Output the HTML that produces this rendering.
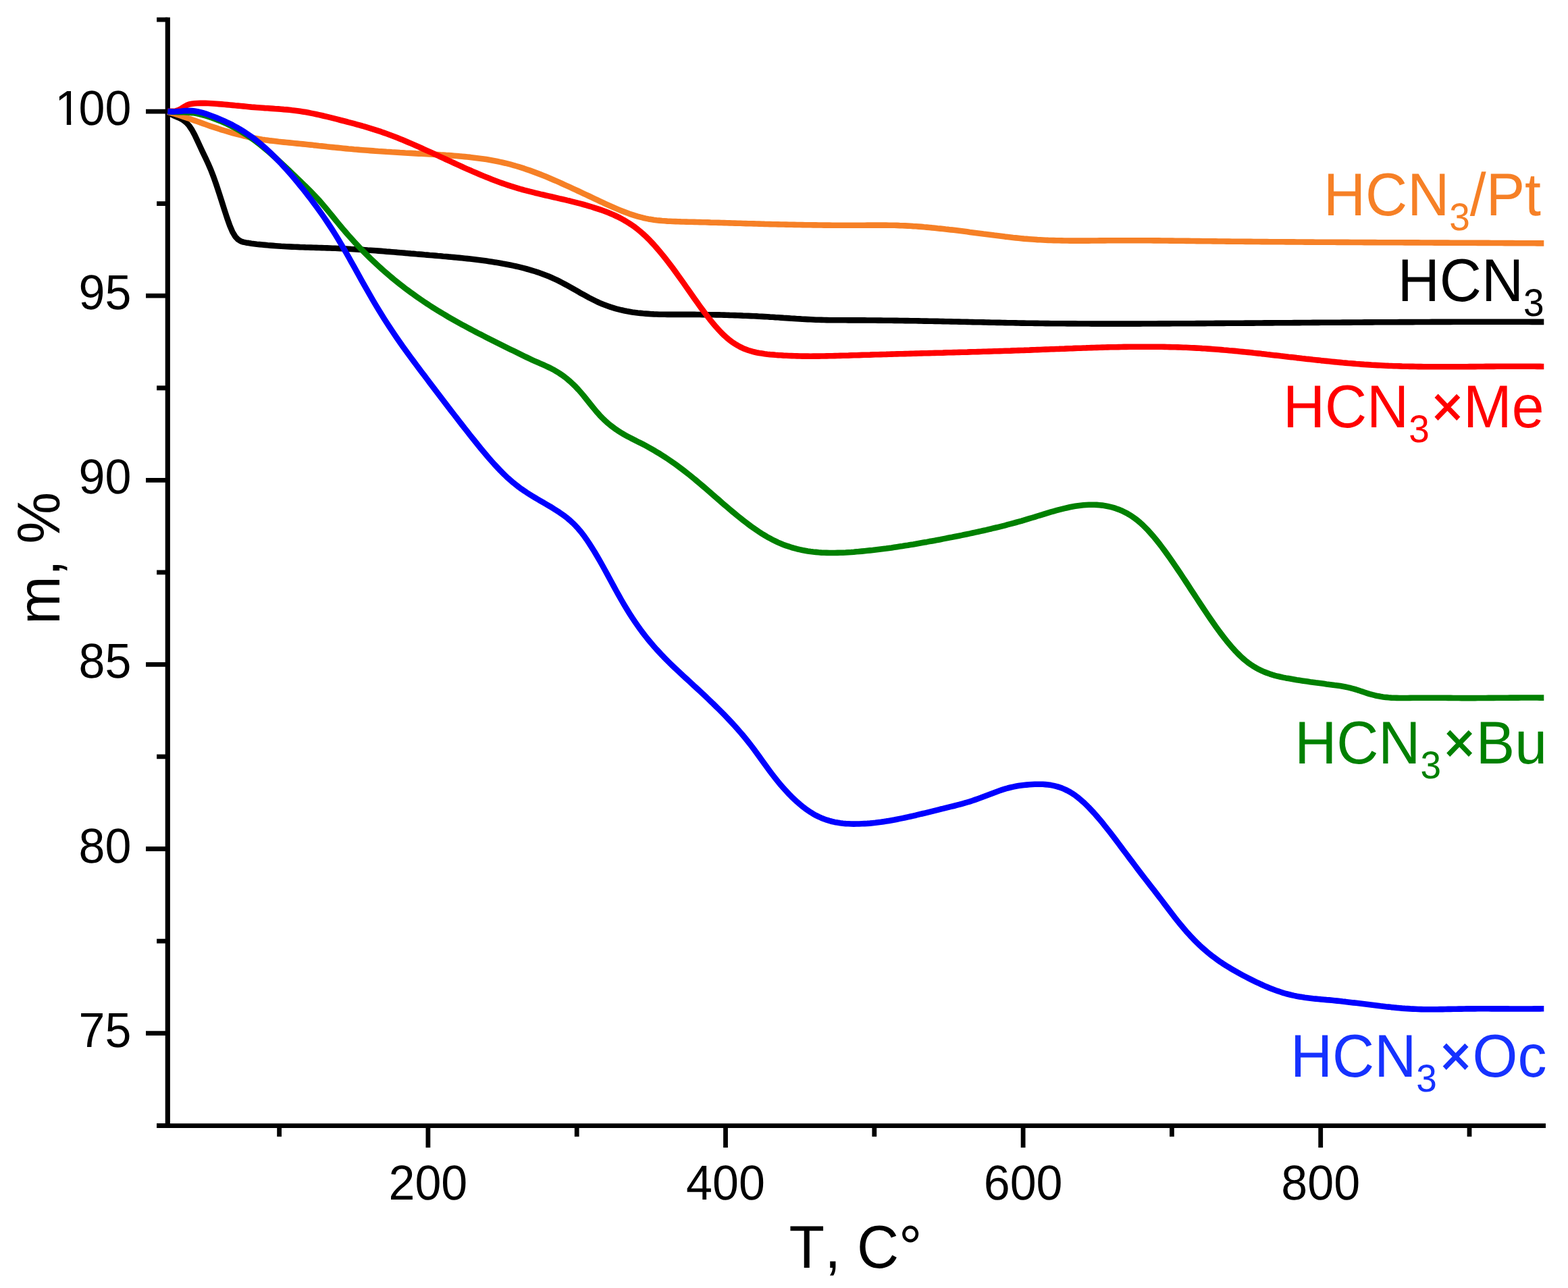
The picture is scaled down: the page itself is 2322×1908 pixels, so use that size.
<!DOCTYPE html>
<html lang="en"><head><meta charset="utf-8"><title>TG curves</title>
<style>
html,body{margin:0;padding:0;background:#fff;}
body{width:2322px;height:1908px;overflow:hidden;}
svg{display:block;font-family:"Liberation Sans",sans-serif;font-kerning:none;text-rendering:geometricPrecision;}
.crv{fill:none;stroke-linejoin:round;stroke-linecap:butt;}
.ax{stroke:#000;fill:none;stroke-linecap:butt;}
</style></head><body>
<svg width="2322" height="1908" viewBox="0 0 2322 1908">
<rect width="2322" height="1908" fill="#fff"/>
<g class="ax" stroke-width="7.2">
<path stroke-width="7.2" d="M248.3 25.8 V1671.00"/>
<path stroke-width="6.8" d="M232.10 1667.6 H2289"/>
<path stroke-width="6.8" d="M248.3 29.20 H232.10 M248.3 165.10 H216.00 M248.3 301.65 H232.10 M248.3 438.20 H216.00 M248.3 574.75 H232.10 M248.3 711.30 H216.00 M248.3 847.85 H232.10 M248.3 984.40 H216.00 M248.3 1120.95 H232.10 M248.3 1257.50 H216.00 M248.3 1394.05 H232.10 M248.3 1530.60 H216.00 M248.3 1667.60 H232.10"/>
<path stroke-width="6.8" d="M413.60 1667.6 V1683.80 M633.90 1667.6 V1699.90 M854.20 1667.6 V1683.80 M1074.50 1667.6 V1699.90 M1294.80 1667.6 V1683.80 M1515.10 1667.6 V1699.90 M1735.40 1667.6 V1683.80 M1955.70 1667.6 V1699.90 M2176.00 1667.6 V1683.80"/>
</g>
<path class="crv" stroke="#000000" stroke-width="8.6" d="M248.3 166.0L252.3 168.7 256.3 170.8 260.3 172.5 264.3 174.2 268.3 176.2 272.3 178.7 276.3 182.0 280.3 186.5 284.3 192.5 288.3 199.9 292.3 208.3 296.3 217.0 300.3 225.6 304.3 233.9 308.3 242.5 312.3 251.7 316.3 262.1 320.3 273.5 324.3 285.6 328.3 298.1 332.3 310.7 336.3 323.0 340.3 334.3 344.3 343.6 348.3 350.3 352.3 354.7 356.3 357.2 360.3 358.6 364.3 359.4 368.3 360.1 372.3 360.7 376.3 361.2 380.3 361.7 384.3 362.1 388.3 362.5 392.3 362.9 396.3 363.3 400.3 363.6 404.3 363.9 408.3 364.2 412.3 364.5 416.3 364.8 420.3 365.0 424.3 365.2 428.3 365.4 432.3 365.6 436.3 365.8 440.3 365.9 444.3 366.1 448.3 366.2 452.3 366.4 456.3 366.5 460.3 366.6 464.3 366.8 468.3 366.9 472.3 367.0 476.3 367.1 480.3 367.3 484.3 367.4 488.3 367.5 492.3 367.7 496.3 367.8 500.3 368.0 504.3 368.2 508.3 368.3 512.3 368.5 516.3 368.7 520.3 369.0 524.3 369.2 528.3 369.4 532.3 369.7 536.3 369.9 540.3 370.2 544.3 370.5 548.3 370.7 552.3 371.0 556.3 371.3 560.3 371.6 564.3 371.9 568.3 372.2 572.3 372.6 576.3 372.9 580.3 373.2 584.3 373.5 588.3 373.9 592.3 374.2 596.3 374.5 600.3 374.9 604.3 375.2 608.3 375.6 612.3 375.9 616.3 376.3 620.3 376.6 624.3 376.9 628.3 377.3 632.3 377.6 636.3 378.0 640.3 378.3 644.3 378.6 648.3 379.0 652.3 379.3 656.3 379.7 660.3 380.0 664.3 380.4 668.3 380.7 672.3 381.1 676.3 381.5 680.3 381.9 684.3 382.3 688.3 382.7 692.3 383.1 696.3 383.5 700.3 384.0 704.3 384.5 708.3 385.0 712.3 385.5 716.3 386.0 720.3 386.6 724.3 387.2 728.3 387.8 732.3 388.4 736.3 389.1 740.3 389.7 744.3 390.5 748.3 391.2 752.3 392.0 756.3 392.8 760.3 393.6 764.3 394.5 768.3 395.4 772.3 396.4 776.3 397.4 780.3 398.5 784.3 399.6 788.3 400.8 792.3 402.0 796.3 403.3 800.3 404.7 804.3 406.2 808.3 407.7 812.3 409.3 816.3 411.0 820.3 412.8 824.3 414.7 828.3 416.7 832.3 418.8 836.3 420.9 840.3 423.1 844.3 425.3 848.3 427.6 852.3 429.8 856.3 432.1 860.3 434.4 864.3 436.6 868.3 438.8 872.3 441.0 876.3 443.0 880.3 445.0 884.3 447.0 888.3 448.8 892.3 450.5 896.3 452.0 900.3 453.5 904.3 454.9 908.3 456.1 912.3 457.3 916.3 458.3 920.3 459.3 924.3 460.2 928.3 461.0 932.3 461.7 936.3 462.4 940.3 462.9 944.3 463.5 948.3 463.9 952.3 464.3 956.3 464.6 960.3 464.9 964.3 465.2 968.3 465.4 972.3 465.5 976.3 465.7 980.3 465.8 984.3 465.8 988.3 465.9 992.3 465.9 996.3 465.9 1000.3 465.9 1004.3 465.9 1008.3 465.9 1012.3 465.9 1016.3 465.9 1020.3 465.9 1024.3 465.9 1028.3 465.9 1032.3 466.0 1036.3 466.0 1040.3 466.1 1044.3 466.1 1048.3 466.2 1052.3 466.2 1056.3 466.3 1060.3 466.4 1064.3 466.4 1068.3 466.5 1072.3 466.6 1076.3 466.7 1080.3 466.9 1084.3 467.0 1088.3 467.1 1092.3 467.3 1096.3 467.4 1100.3 467.6 1104.3 467.7 1108.3 467.9 1112.3 468.1 1116.3 468.3 1120.3 468.4 1124.3 468.7 1128.3 468.9 1132.3 469.1 1136.3 469.3 1140.3 469.6 1144.3 469.8 1148.3 470.1 1152.3 470.3 1156.3 470.6 1160.3 470.9 1164.3 471.1 1168.3 471.4 1172.3 471.7 1176.3 471.9 1180.3 472.2 1184.3 472.4 1188.3 472.7 1192.3 472.9 1196.3 473.1 1200.3 473.3 1204.3 473.5 1208.3 473.7 1212.3 473.8 1216.3 473.9 1220.3 474.0 1224.3 474.1 1228.3 474.2 1232.3 474.2 1236.3 474.3 1240.3 474.3 1244.3 474.3 1248.3 474.3 1252.3 474.3 1256.3 474.4 1260.3 474.4 1264.3 474.4 1268.3 474.4 1272.3 474.4 1276.3 474.4 1280.3 474.4 1284.3 474.5 1288.3 474.5 1292.3 474.5 1296.3 474.5 1300.3 474.6 1304.3 474.6 1308.3 474.7 1312.3 474.7 1316.3 474.8 1320.3 474.8 1324.3 474.9 1328.3 474.9 1332.3 475.0 1336.3 475.0 1340.3 475.1 1344.3 475.1 1348.3 475.2 1352.3 475.3 1356.3 475.3 1360.3 475.4 1364.3 475.5 1368.3 475.6 1372.3 475.6 1376.3 475.7 1380.3 475.8 1384.3 475.9 1388.3 475.9 1392.3 476.0 1396.3 476.1 1400.3 476.2 1404.3 476.3 1408.3 476.4 1412.3 476.5 1416.3 476.5 1420.3 476.6 1424.3 476.7 1428.3 476.8 1432.3 476.9 1436.3 477.0 1440.3 477.1 1444.3 477.2 1448.3 477.3 1452.3 477.3 1456.3 477.4 1460.3 477.5 1464.3 477.6 1468.3 477.7 1472.3 477.8 1476.3 477.9 1480.3 477.9 1484.3 478.0 1488.3 478.1 1492.3 478.2 1496.3 478.3 1500.3 478.3 1504.3 478.4 1508.3 478.5 1512.3 478.6 1516.3 478.6 1520.3 478.7 1524.3 478.7 1528.3 478.8 1532.3 478.9 1536.3 478.9 1540.3 479.0 1544.3 479.0 1548.3 479.1 1552.3 479.1 1556.3 479.2 1560.3 479.2 1564.3 479.2 1568.3 479.3 1572.3 479.3 1576.3 479.3 1580.3 479.4 1584.3 479.4 1588.3 479.4 1592.3 479.4 1596.3 479.5 1600.3 479.5 1604.3 479.5 1608.3 479.5 1612.3 479.5 1616.3 479.6 1620.3 479.6 1624.3 479.6 1628.3 479.6 1632.3 479.6 1636.3 479.6 1640.3 479.6 1644.3 479.6 1648.3 479.6 1652.3 479.6 1656.3 479.6 1660.3 479.6 1664.3 479.6 1668.3 479.6 1672.3 479.6 1676.3 479.6 1680.3 479.6 1684.3 479.6 1688.3 479.6 1692.3 479.5 1696.3 479.5 1700.3 479.5 1704.3 479.5 1708.3 479.5 1712.3 479.5 1716.3 479.4 1720.3 479.4 1724.3 479.4 1728.3 479.4 1732.3 479.4 1736.3 479.3 1740.3 479.3 1744.3 479.3 1748.3 479.3 1752.3 479.3 1756.3 479.2 1760.3 479.2 1764.3 479.2 1768.3 479.2 1772.3 479.1 1776.3 479.1 1780.3 479.1 1784.3 479.1 1788.3 479.0 1792.3 479.0 1796.3 479.0 1800.3 478.9 1804.3 478.9 1808.3 478.9 1812.3 478.9 1816.3 478.8 1820.3 478.8 1824.3 478.8 1828.3 478.8 1832.3 478.7 1836.3 478.7 1840.3 478.7 1844.3 478.6 1848.3 478.6 1852.3 478.6 1856.3 478.6 1860.3 478.5 1864.3 478.5 1868.3 478.5 1872.3 478.4 1876.3 478.4 1880.3 478.4 1884.3 478.4 1888.3 478.3 1892.3 478.3 1896.3 478.3 1900.3 478.2 1904.3 478.2 1908.3 478.2 1912.3 478.2 1916.3 478.1 1920.3 478.1 1924.3 478.1 1928.3 478.0 1932.3 478.0 1936.3 478.0 1940.3 478.0 1944.3 477.9 1948.3 477.9 1952.3 477.9 1956.3 477.8 1960.3 477.8 1964.3 477.8 1968.3 477.8 1972.3 477.7 1976.3 477.7 1980.3 477.7 1984.3 477.7 1988.3 477.6 1992.3 477.6 1996.3 477.6 2000.3 477.6 2004.3 477.5 2008.3 477.5 2012.3 477.5 2016.3 477.5 2020.3 477.4 2024.3 477.4 2028.3 477.4 2032.3 477.4 2036.3 477.3 2040.3 477.3 2044.3 477.3 2048.3 477.3 2052.3 477.2 2056.3 477.2 2060.3 477.2 2064.3 477.2 2068.3 477.2 2072.3 477.1 2076.3 477.1 2080.3 477.1 2084.3 477.1 2088.3 477.1 2092.3 477.1 2096.3 477.0 2100.3 477.0 2104.3 477.0 2108.3 477.0 2112.3 477.0 2116.3 477.0 2120.3 476.9 2124.3 476.9 2128.3 476.9 2132.3 476.9 2136.3 476.9 2140.3 476.9 2144.3 476.9 2148.3 476.9 2152.3 476.8 2156.3 476.8 2160.3 476.8 2164.3 476.8 2168.3 476.8 2172.3 476.8 2176.3 476.8 2180.3 476.8 2184.3 476.8 2188.3 476.8 2192.3 476.8 2196.3 476.8 2200.3 476.8 2204.3 476.8 2208.3 476.8 2212.3 476.8 2216.3 476.8 2220.3 476.8 2224.3 476.8 2228.3 476.8 2232.3 476.8 2236.3 476.8 2240.3 476.8 2244.3 476.8 2248.3 476.8 2252.3 476.8 2256.3 476.8 2260.3 476.8 2264.3 476.8 2268.3 476.9 2272.3 476.9 2276.3 476.9 2280.3 476.9 2284.3 476.9 2286.3 476.9"/>
<path class="crv" stroke="#f68026" stroke-width="8.6" d="M248.3 165.8L252.3 166.9 256.3 168.0 260.3 169.2 264.3 170.4 268.3 171.7 272.3 173.1 276.3 174.4 280.3 175.8 284.3 177.2 288.3 178.6 292.3 180.0 296.3 181.4 300.3 182.9 304.3 184.3 308.3 185.7 312.3 187.1 316.3 188.4 320.3 189.7 324.3 191.0 328.3 192.3 332.3 193.5 336.3 194.7 340.3 195.9 344.3 197.0 348.3 198.1 352.3 199.2 356.3 200.2 360.3 201.2 364.3 202.1 368.3 203.0 372.3 203.8 376.3 204.6 380.3 205.3 384.3 206.0 388.3 206.7 392.3 207.3 396.3 207.8 400.3 208.4 404.3 208.8 408.3 209.3 412.3 209.8 416.3 210.2 420.3 210.6 424.3 211.0 428.3 211.4 432.3 211.8 436.3 212.2 440.3 212.6 444.3 213.0 448.3 213.4 452.3 213.8 456.3 214.2 460.3 214.6 464.3 215.1 468.3 215.5 472.3 216.0 476.3 216.4 480.3 216.8 484.3 217.3 488.3 217.7 492.3 218.1 496.3 218.5 500.3 218.9 504.3 219.3 508.3 219.7 512.3 220.1 516.3 220.5 520.3 220.8 524.3 221.2 528.3 221.5 532.3 221.9 536.3 222.2 540.3 222.5 544.3 222.8 548.3 223.1 552.3 223.4 556.3 223.7 560.3 224.0 564.3 224.2 568.3 224.5 572.3 224.8 576.3 225.0 580.3 225.3 584.3 225.5 588.3 225.7 592.3 226.0 596.3 226.2 600.3 226.5 604.3 226.7 608.3 226.9 612.3 227.1 616.3 227.4 620.3 227.6 624.3 227.8 628.3 228.0 632.3 228.2 636.3 228.5 640.3 228.7 644.3 228.9 648.3 229.1 652.3 229.4 656.3 229.6 660.3 229.9 664.3 230.1 668.3 230.4 672.3 230.7 676.3 231.0 680.3 231.4 684.3 231.7 688.3 232.1 692.3 232.5 696.3 232.9 700.3 233.4 704.3 233.9 708.3 234.4 712.3 234.9 716.3 235.5 720.3 236.1 724.3 236.8 728.3 237.5 732.3 238.2 736.3 239.0 740.3 239.9 744.3 240.8 748.3 241.7 752.3 242.7 756.3 243.7 760.3 244.8 764.3 246.0 768.3 247.2 772.3 248.4 776.3 249.7 780.3 251.1 784.3 252.4 788.3 253.9 792.3 255.4 796.3 256.9 800.3 258.4 804.3 260.0 808.3 261.6 812.3 263.3 816.3 265.0 820.3 266.7 824.3 268.4 828.3 270.2 832.3 272.0 836.3 273.8 840.3 275.6 844.3 277.4 848.3 279.3 852.3 281.1 856.3 283.0 860.3 284.9 864.3 286.8 868.3 288.6 872.3 290.5 876.3 292.4 880.3 294.3 884.3 296.2 888.3 298.1 892.3 299.9 896.3 301.8 900.3 303.6 904.3 305.4 908.3 307.2 912.3 308.9 916.3 310.6 920.3 312.2 924.3 313.8 928.3 315.3 932.3 316.8 936.3 318.1 940.3 319.4 944.3 320.6 948.3 321.7 952.3 322.7 956.3 323.6 960.3 324.4 964.3 325.1 968.3 325.7 972.3 326.2 976.3 326.6 980.3 327.0 984.3 327.3 988.3 327.6 992.3 327.8 996.3 328.0 1000.3 328.1 1004.3 328.2 1008.3 328.4 1012.3 328.5 1016.3 328.6 1020.3 328.7 1024.3 328.8 1028.3 328.9 1032.3 329.0 1036.3 329.1 1040.3 329.2 1044.3 329.3 1048.3 329.4 1052.3 329.6 1056.3 329.7 1060.3 329.8 1064.3 329.9 1068.3 330.0 1072.3 330.1 1076.3 330.3 1080.3 330.4 1084.3 330.5 1088.3 330.6 1092.3 330.7 1096.3 330.8 1100.3 331.0 1104.3 331.1 1108.3 331.2 1112.3 331.3 1116.3 331.4 1120.3 331.5 1124.3 331.6 1128.3 331.7 1132.3 331.9 1136.3 332.0 1140.3 332.1 1144.3 332.2 1148.3 332.3 1152.3 332.4 1156.3 332.5 1160.3 332.5 1164.3 332.6 1168.3 332.7 1172.3 332.8 1176.3 332.9 1180.3 333.0 1184.3 333.0 1188.3 333.1 1192.3 333.2 1196.3 333.3 1200.3 333.3 1204.3 333.4 1208.3 333.4 1212.3 333.5 1216.3 333.5 1220.3 333.6 1224.3 333.6 1228.3 333.6 1232.3 333.7 1236.3 333.7 1240.3 333.7 1244.3 333.7 1248.3 333.8 1252.3 333.8 1256.3 333.8 1260.3 333.8 1264.3 333.8 1268.3 333.7 1272.3 333.7 1276.3 333.7 1280.3 333.7 1284.3 333.6 1288.3 333.6 1292.3 333.6 1296.3 333.6 1300.3 333.6 1304.3 333.6 1308.3 333.6 1312.3 333.6 1316.3 333.7 1320.3 333.7 1324.3 333.8 1328.3 333.9 1332.3 334.1 1336.3 334.2 1340.3 334.4 1344.3 334.6 1348.3 334.8 1352.3 335.1 1356.3 335.3 1360.3 335.6 1364.3 335.9 1368.3 336.3 1372.3 336.6 1376.3 337.0 1380.3 337.4 1384.3 337.7 1388.3 338.2 1392.3 338.6 1396.3 339.0 1400.3 339.5 1404.3 339.9 1408.3 340.4 1412.3 340.8 1416.3 341.3 1420.3 341.8 1424.3 342.3 1428.3 342.8 1432.3 343.3 1436.3 343.9 1440.3 344.4 1444.3 344.9 1448.3 345.4 1452.3 345.9 1456.3 346.5 1460.3 347.0 1464.3 347.5 1468.3 348.0 1472.3 348.6 1476.3 349.1 1480.3 349.6 1484.3 350.1 1488.3 350.6 1492.3 351.0 1496.3 351.5 1500.3 352.0 1504.3 352.4 1508.3 352.8 1512.3 353.2 1516.3 353.6 1520.3 353.9 1524.3 354.2 1528.3 354.5 1532.3 354.8 1536.3 355.1 1540.3 355.3 1544.3 355.5 1548.3 355.7 1552.3 355.9 1556.3 356.0 1560.3 356.1 1564.3 356.2 1568.3 356.3 1572.3 356.4 1576.3 356.5 1580.3 356.5 1584.3 356.6 1588.3 356.6 1592.3 356.6 1596.3 356.6 1600.3 356.6 1604.3 356.6 1608.3 356.6 1612.3 356.6 1616.3 356.5 1620.3 356.5 1624.3 356.5 1628.3 356.4 1632.3 356.4 1636.3 356.4 1640.3 356.3 1644.3 356.3 1648.3 356.3 1652.3 356.2 1656.3 356.2 1660.3 356.2 1664.3 356.2 1668.3 356.2 1672.3 356.2 1676.3 356.2 1680.3 356.2 1684.3 356.2 1688.3 356.2 1692.3 356.2 1696.3 356.3 1700.3 356.3 1704.3 356.3 1708.3 356.4 1712.3 356.4 1716.3 356.4 1720.3 356.5 1724.3 356.5 1728.3 356.5 1732.3 356.6 1736.3 356.6 1740.3 356.7 1744.3 356.7 1748.3 356.8 1752.3 356.8 1756.3 356.9 1760.3 356.9 1764.3 357.0 1768.3 357.0 1772.3 357.1 1776.3 357.1 1780.3 357.2 1784.3 357.2 1788.3 357.3 1792.3 357.3 1796.3 357.4 1800.3 357.4 1804.3 357.5 1808.3 357.5 1812.3 357.5 1816.3 357.6 1820.3 357.6 1824.3 357.7 1828.3 357.7 1832.3 357.7 1836.3 357.8 1840.3 357.8 1844.3 357.9 1848.3 357.9 1852.3 357.9 1856.3 358.0 1860.3 358.0 1864.3 358.0 1868.3 358.1 1872.3 358.1 1876.3 358.1 1880.3 358.2 1884.3 358.2 1888.3 358.2 1892.3 358.3 1896.3 358.3 1900.3 358.3 1904.3 358.4 1908.3 358.4 1912.3 358.4 1916.3 358.4 1920.3 358.5 1924.3 358.5 1928.3 358.5 1932.3 358.6 1936.3 358.6 1940.3 358.6 1944.3 358.6 1948.3 358.7 1952.3 358.7 1956.3 358.7 1960.3 358.7 1964.3 358.8 1968.3 358.8 1972.3 358.8 1976.3 358.8 1980.3 358.9 1984.3 358.9 1988.3 358.9 1992.3 358.9 1996.3 358.9 2000.3 359.0 2004.3 359.0 2008.3 359.0 2012.3 359.0 2016.3 359.0 2020.3 359.1 2024.3 359.1 2028.3 359.1 2032.3 359.1 2036.3 359.1 2040.3 359.2 2044.3 359.2 2048.3 359.2 2052.3 359.2 2056.3 359.2 2060.3 359.3 2064.3 359.3 2068.3 359.3 2072.3 359.3 2076.3 359.3 2080.3 359.4 2084.3 359.4 2088.3 359.4 2092.3 359.4 2096.3 359.4 2100.3 359.4 2104.3 359.5 2108.3 359.5 2112.3 359.5 2116.3 359.5 2120.3 359.5 2124.3 359.6 2128.3 359.6 2132.3 359.6 2136.3 359.6 2140.3 359.6 2144.3 359.6 2148.3 359.7 2152.3 359.7 2156.3 359.7 2160.3 359.7 2164.3 359.7 2168.3 359.8 2172.3 359.8 2176.3 359.8 2180.3 359.8 2184.3 359.8 2188.3 359.9 2192.3 359.9 2196.3 359.9 2200.3 359.9 2204.3 359.9 2208.3 360.0 2212.3 360.0 2216.3 360.0 2220.3 360.0 2224.3 360.0 2228.3 360.1 2232.3 360.1 2236.3 360.1 2240.3 360.1 2244.3 360.2 2248.3 360.2 2252.3 360.2 2256.3 360.2 2260.3 360.3 2264.3 360.3 2268.3 360.3 2272.3 360.3 2276.3 360.4 2280.3 360.4 2284.3 360.4 2286.3 360.4"/>
<path class="crv" stroke="#ff0000" stroke-width="8.6" d="M248.3 164.7L252.3 164.7 256.3 164.9 260.3 164.4 264.3 163.1 268.3 161.0 272.3 158.5 276.3 156.1 280.3 154.5 284.3 153.8 288.3 153.3 292.3 153.0 296.3 152.9 300.3 152.8 304.3 152.9 308.3 153.0 312.3 153.2 316.3 153.5 320.3 153.8 324.3 154.1 328.3 154.4 332.3 154.7 336.3 155.1 340.3 155.5 344.3 155.9 348.3 156.3 352.3 156.6 356.3 157.0 360.3 157.4 364.3 157.8 368.3 158.2 372.3 158.6 376.3 158.9 380.3 159.2 384.3 159.5 388.3 159.8 392.3 160.1 396.3 160.3 400.3 160.6 404.3 160.9 408.3 161.2 412.3 161.4 416.3 161.7 420.3 162.1 424.3 162.4 428.3 162.8 432.3 163.3 436.3 163.7 440.3 164.2 444.3 164.8 448.3 165.4 452.3 166.1 456.3 166.8 460.3 167.6 464.3 168.4 468.3 169.2 472.3 170.1 476.3 171.0 480.3 172.0 484.3 172.9 488.3 173.9 492.3 174.9 496.3 175.9 500.3 176.9 504.3 178.0 508.3 179.0 512.3 180.0 516.3 181.1 520.3 182.1 524.3 183.2 528.3 184.3 532.3 185.4 536.3 186.5 540.3 187.7 544.3 188.9 548.3 190.1 552.3 191.3 556.3 192.6 560.3 193.9 564.3 195.2 568.3 196.6 572.3 198.0 576.3 199.5 580.3 201.0 584.3 202.5 588.3 204.1 592.3 205.7 596.3 207.3 600.3 209.0 604.3 210.7 608.3 212.4 612.3 214.1 616.3 215.9 620.3 217.7 624.3 219.5 628.3 221.3 632.3 223.1 636.3 224.9 640.3 226.7 644.3 228.6 648.3 230.4 652.3 232.3 656.3 234.1 660.3 236.0 664.3 237.8 668.3 239.7 672.3 241.5 676.3 243.3 680.3 245.2 684.3 247.0 688.3 248.8 692.3 250.6 696.3 252.3 700.3 254.1 704.3 255.8 708.3 257.5 712.3 259.2 716.3 260.9 720.3 262.5 724.3 264.1 728.3 265.7 732.3 267.2 736.3 268.7 740.3 270.2 744.3 271.6 748.3 273.0 752.3 274.4 756.3 275.7 760.3 276.9 764.3 278.1 768.3 279.3 772.3 280.5 776.3 281.6 780.3 282.6 784.3 283.7 788.3 284.7 792.3 285.7 796.3 286.6 800.3 287.6 804.3 288.5 808.3 289.5 812.3 290.4 816.3 291.3 820.3 292.2 824.3 293.1 828.3 294.1 832.3 295.0 836.3 295.9 840.3 296.9 844.3 297.8 848.3 298.8 852.3 299.8 856.3 300.9 860.3 301.9 864.3 303.0 868.3 304.1 872.3 305.3 876.3 306.5 880.3 307.8 884.3 309.1 888.3 310.4 892.3 311.8 896.3 313.3 900.3 314.8 904.3 316.4 908.3 318.1 912.3 320.0 916.3 321.9 920.3 324.0 924.3 326.2 928.3 328.6 932.3 331.1 936.3 333.8 940.3 336.6 944.3 339.7 948.3 343.0 952.3 346.5 956.3 350.2 960.3 354.1 964.3 358.2 968.3 362.5 972.3 367.1 976.3 371.7 980.3 376.6 984.3 381.5 988.3 386.6 992.3 391.9 996.3 397.2 1000.3 402.6 1004.3 408.2 1008.3 413.7 1012.3 419.4 1016.3 425.1 1020.3 430.8 1024.3 436.5 1028.3 442.2 1032.3 447.8 1036.3 453.4 1040.3 458.9 1044.3 464.3 1048.3 469.5 1052.3 474.6 1056.3 479.5 1060.3 484.2 1064.3 488.6 1068.3 492.9 1072.3 496.8 1076.3 500.4 1080.3 503.8 1084.3 506.7 1088.3 509.4 1092.3 511.8 1096.3 514.0 1100.3 515.9 1104.3 517.5 1108.3 519.0 1112.3 520.2 1116.3 521.3 1120.3 522.2 1124.3 523.0 1128.3 523.6 1132.3 524.2 1136.3 524.7 1140.3 525.1 1144.3 525.4 1148.3 525.8 1152.3 526.1 1156.3 526.3 1160.3 526.6 1164.3 526.8 1168.3 527.0 1172.3 527.1 1176.3 527.3 1180.3 527.4 1184.3 527.5 1188.3 527.6 1192.3 527.6 1196.3 527.6 1200.3 527.7 1204.3 527.6 1208.3 527.6 1212.3 527.6 1216.3 527.5 1220.3 527.5 1224.3 527.4 1228.3 527.3 1232.3 527.2 1236.3 527.1 1240.3 527.0 1244.3 526.9 1248.3 526.8 1252.3 526.7 1256.3 526.6 1260.3 526.4 1264.3 526.3 1268.3 526.2 1272.3 526.1 1276.3 525.9 1280.3 525.8 1284.3 525.7 1288.3 525.6 1292.3 525.4 1296.3 525.3 1300.3 525.2 1304.3 525.1 1308.3 525.0 1312.3 524.9 1316.3 524.7 1320.3 524.6 1324.3 524.5 1328.3 524.4 1332.3 524.3 1336.3 524.2 1340.3 524.1 1344.3 524.0 1348.3 523.9 1352.3 523.8 1356.3 523.6 1360.3 523.5 1364.3 523.4 1368.3 523.3 1372.3 523.2 1376.3 523.1 1380.3 523.0 1384.3 522.9 1388.3 522.8 1392.3 522.7 1396.3 522.6 1400.3 522.4 1404.3 522.3 1408.3 522.2 1412.3 522.1 1416.3 522.0 1420.3 521.9 1424.3 521.8 1428.3 521.7 1432.3 521.6 1436.3 521.4 1440.3 521.3 1444.3 521.2 1448.3 521.1 1452.3 521.0 1456.3 520.8 1460.3 520.7 1464.3 520.6 1468.3 520.5 1472.3 520.3 1476.3 520.2 1480.3 520.1 1484.3 520.0 1488.3 519.8 1492.3 519.7 1496.3 519.6 1500.3 519.4 1504.3 519.3 1508.3 519.1 1512.3 519.0 1516.3 518.9 1520.3 518.7 1524.3 518.6 1528.3 518.4 1532.3 518.3 1536.3 518.1 1540.3 518.0 1544.3 517.8 1548.3 517.6 1552.3 517.5 1556.3 517.3 1560.3 517.2 1564.3 517.0 1568.3 516.9 1572.3 516.7 1576.3 516.6 1580.3 516.4 1584.3 516.2 1588.3 516.1 1592.3 515.9 1596.3 515.8 1600.3 515.7 1604.3 515.5 1608.3 515.4 1612.3 515.2 1616.3 515.1 1620.3 515.0 1624.3 514.9 1628.3 514.8 1632.3 514.6 1636.3 514.5 1640.3 514.4 1644.3 514.3 1648.3 514.2 1652.3 514.2 1656.3 514.1 1660.3 514.0 1664.3 513.9 1668.3 513.9 1672.3 513.8 1676.3 513.8 1680.3 513.7 1684.3 513.7 1688.3 513.7 1692.3 513.7 1696.3 513.7 1700.3 513.7 1704.3 513.7 1708.3 513.7 1712.3 513.8 1716.3 513.8 1720.3 513.8 1724.3 513.9 1728.3 514.0 1732.3 514.1 1736.3 514.2 1740.3 514.3 1744.3 514.4 1748.3 514.5 1752.3 514.7 1756.3 514.8 1760.3 515.0 1764.3 515.2 1768.3 515.4 1772.3 515.6 1776.3 515.8 1780.3 516.1 1784.3 516.3 1788.3 516.6 1792.3 516.9 1796.3 517.2 1800.3 517.5 1804.3 517.8 1808.3 518.1 1812.3 518.5 1816.3 518.8 1820.3 519.2 1824.3 519.5 1828.3 519.9 1832.3 520.3 1836.3 520.7 1840.3 521.1 1844.3 521.5 1848.3 521.9 1852.3 522.3 1856.3 522.8 1860.3 523.2 1864.3 523.6 1868.3 524.1 1872.3 524.5 1876.3 525.0 1880.3 525.4 1884.3 525.9 1888.3 526.4 1892.3 526.8 1896.3 527.3 1900.3 527.7 1904.3 528.2 1908.3 528.7 1912.3 529.1 1916.3 529.6 1920.3 530.1 1924.3 530.5 1928.3 531.0 1932.3 531.4 1936.3 531.9 1940.3 532.3 1944.3 532.8 1948.3 533.2 1952.3 533.6 1956.3 534.1 1960.3 534.5 1964.3 534.9 1968.3 535.3 1972.3 535.7 1976.3 536.1 1980.3 536.5 1984.3 536.9 1988.3 537.3 1992.3 537.6 1996.3 538.0 2000.3 538.3 2004.3 538.6 2008.3 539.0 2012.3 539.3 2016.3 539.6 2020.3 539.9 2024.3 540.1 2028.3 540.4 2032.3 540.7 2036.3 540.9 2040.3 541.1 2044.3 541.3 2048.3 541.5 2052.3 541.7 2056.3 541.9 2060.3 542.0 2064.3 542.2 2068.3 542.3 2072.3 542.4 2076.3 542.6 2080.3 542.7 2084.3 542.8 2088.3 542.9 2092.3 542.9 2096.3 543.0 2100.3 543.1 2104.3 543.1 2108.3 543.2 2112.3 543.2 2116.3 543.2 2120.3 543.3 2124.3 543.3 2128.3 543.3 2132.3 543.3 2136.3 543.3 2140.3 543.3 2144.3 543.3 2148.3 543.3 2152.3 543.3 2156.3 543.3 2160.3 543.2 2164.3 543.2 2168.3 543.2 2172.3 543.2 2176.3 543.1 2180.3 543.1 2184.3 543.1 2188.3 543.0 2192.3 543.0 2196.3 543.0 2200.3 542.9 2204.3 542.9 2208.3 542.9 2212.3 542.9 2216.3 542.8 2220.3 542.8 2224.3 542.8 2228.3 542.8 2232.3 542.7 2236.3 542.7 2240.3 542.7 2244.3 542.7 2248.3 542.7 2252.3 542.7 2256.3 542.7 2260.3 542.8 2264.3 542.8 2268.3 542.8 2272.3 542.8 2276.3 542.9 2280.3 542.9 2284.3 543.0 2286.3 543.0"/>
<path class="crv" stroke="#008000" stroke-width="8.6" d="M248.3 165.3L252.3 165.6 256.3 165.9 260.3 166.0 264.3 166.1 268.3 166.1 272.3 166.2 276.3 166.4 280.3 166.7 284.3 167.1 288.3 167.6 292.3 168.4 296.3 169.3 300.3 170.3 304.3 171.4 308.3 172.6 312.3 174.0 316.3 175.4 320.3 176.9 324.3 178.5 328.3 180.1 332.3 181.9 336.3 183.7 340.3 185.7 344.3 187.7 348.3 189.8 352.3 192.0 356.3 194.3 360.3 196.8 364.3 199.3 368.3 201.9 372.3 204.7 376.3 207.6 380.3 210.5 384.3 213.6 388.3 216.8 392.3 220.1 396.3 223.5 400.3 226.9 404.3 230.4 408.3 234.0 412.3 237.7 416.3 241.4 420.3 245.1 424.3 248.9 428.3 252.7 432.3 256.6 436.3 260.4 440.3 264.3 444.3 268.1 448.3 272.0 452.3 275.8 456.3 279.8 460.3 283.8 464.3 287.9 468.3 292.1 472.3 296.4 476.3 301.0 480.3 305.7 484.3 310.5 488.3 315.4 492.3 320.3 496.3 325.2 500.3 330.1 504.3 335.0 508.3 339.7 512.3 344.4 516.3 349.0 520.3 353.4 524.3 357.9 528.3 362.2 532.3 366.4 536.3 370.6 540.3 374.6 544.3 378.6 548.3 382.6 552.3 386.4 556.3 390.2 560.3 393.9 564.3 397.5 568.3 401.1 572.3 404.6 576.3 408.0 580.3 411.4 584.3 414.7 588.3 417.9 592.3 421.1 596.3 424.2 600.3 427.3 604.3 430.3 608.3 433.2 612.3 436.1 616.3 439.0 620.3 441.8 624.3 444.5 628.3 447.2 632.3 449.9 636.3 452.5 640.3 455.1 644.3 457.6 648.3 460.1 652.3 462.5 656.3 464.9 660.3 467.3 664.3 469.7 668.3 472.0 672.3 474.3 676.3 476.5 680.3 478.7 684.3 480.9 688.3 483.1 692.3 485.3 696.3 487.4 700.3 489.5 704.3 491.6 708.3 493.7 712.3 495.7 716.3 497.8 720.3 499.8 724.3 501.8 728.3 503.8 732.3 505.8 736.3 507.8 740.3 509.8 744.3 511.8 748.3 513.8 752.3 515.8 756.3 517.8 760.3 519.7 764.3 521.7 768.3 523.7 772.3 525.7 776.3 527.6 780.3 529.5 784.3 531.4 788.3 533.3 792.3 535.1 796.3 536.8 800.3 538.6 804.3 540.3 808.3 542.1 812.3 544.0 816.3 545.9 820.3 548.1 824.3 550.4 828.3 552.9 832.3 555.6 836.3 558.5 840.3 561.7 844.3 565.1 848.3 568.8 852.3 572.7 856.3 577.0 860.3 581.5 864.3 586.2 868.3 591.2 872.3 596.2 876.3 601.2 880.3 606.1 884.3 610.9 888.3 615.4 892.3 619.5 896.3 623.4 900.3 627.0 904.3 630.3 908.3 633.3 912.3 636.2 916.3 638.8 920.3 641.3 924.3 643.7 928.3 645.9 932.3 648.0 936.3 650.1 940.3 652.1 944.3 654.2 948.3 656.2 952.3 658.2 956.3 660.3 960.3 662.5 964.3 664.8 968.3 667.1 972.3 669.4 976.3 671.8 980.3 674.3 984.3 676.9 988.3 679.5 992.3 682.2 996.3 685.0 1000.3 687.8 1004.3 690.7 1008.3 693.7 1012.3 696.7 1016.3 699.8 1020.3 703.0 1024.3 706.3 1028.3 709.5 1032.3 712.9 1036.3 716.2 1040.3 719.6 1044.3 723.1 1048.3 726.5 1052.3 730.0 1056.3 733.5 1060.3 737.0 1064.3 740.4 1068.3 743.9 1072.3 747.4 1076.3 750.8 1080.3 754.2 1084.3 757.6 1088.3 760.9 1092.3 764.2 1096.3 767.4 1100.3 770.6 1104.3 773.7 1108.3 776.7 1112.3 779.7 1116.3 782.5 1120.3 785.3 1124.3 788.0 1128.3 790.6 1132.3 793.0 1136.3 795.4 1140.3 797.6 1144.3 799.7 1148.3 801.7 1152.3 803.6 1156.3 805.3 1160.3 806.9 1164.3 808.4 1168.3 809.7 1172.3 811.0 1176.3 812.1 1180.3 813.2 1184.3 814.1 1188.3 815.0 1192.3 815.7 1196.3 816.4 1200.3 817.0 1204.3 817.5 1208.3 817.9 1212.3 818.3 1216.3 818.6 1220.3 818.8 1224.3 818.9 1228.3 819.0 1232.3 819.0 1236.3 819.0 1240.3 818.9 1244.3 818.8 1248.3 818.7 1252.3 818.5 1256.3 818.2 1260.3 818.0 1264.3 817.7 1268.3 817.3 1272.3 817.0 1276.3 816.6 1280.3 816.2 1284.3 815.8 1288.3 815.4 1292.3 815.0 1296.3 814.5 1300.3 814.0 1304.3 813.5 1308.3 813.0 1312.3 812.5 1316.3 811.9 1320.3 811.4 1324.3 810.8 1328.3 810.2 1332.3 809.6 1336.3 809.0 1340.3 808.3 1344.3 807.7 1348.3 807.0 1352.3 806.4 1356.3 805.7 1360.3 805.0 1364.3 804.3 1368.3 803.6 1372.3 802.9 1376.3 802.1 1380.3 801.4 1384.3 800.7 1388.3 799.9 1392.3 799.2 1396.3 798.4 1400.3 797.6 1404.3 796.8 1408.3 796.1 1412.3 795.3 1416.3 794.5 1420.3 793.7 1424.3 792.9 1428.3 792.0 1432.3 791.2 1436.3 790.4 1440.3 789.5 1444.3 788.6 1448.3 787.8 1452.3 786.9 1456.3 786.0 1460.3 785.1 1464.3 784.1 1468.3 783.2 1472.3 782.2 1476.3 781.3 1480.3 780.3 1484.3 779.3 1488.3 778.3 1492.3 777.2 1496.3 776.2 1500.3 775.1 1504.3 774.0 1508.3 772.9 1512.3 771.8 1516.3 770.6 1520.3 769.4 1524.3 768.2 1528.3 767.0 1532.3 765.8 1536.3 764.5 1540.3 763.3 1544.3 762.1 1548.3 760.8 1552.3 759.6 1556.3 758.4 1560.3 757.3 1564.3 756.2 1568.3 755.1 1572.3 754.1 1576.3 753.1 1580.3 752.2 1584.3 751.3 1588.3 750.5 1592.3 749.8 1596.3 749.2 1600.3 748.7 1604.3 748.3 1608.3 748.0 1612.3 747.8 1616.3 747.7 1620.3 747.7 1624.3 747.9 1628.3 748.2 1632.3 748.6 1636.3 749.2 1640.3 750.0 1644.3 750.9 1648.3 751.9 1652.3 753.2 1656.3 754.6 1660.3 756.2 1664.3 758.1 1668.3 760.1 1672.3 762.4 1676.3 764.9 1680.3 767.7 1684.3 770.7 1688.3 774.1 1692.3 777.7 1696.3 781.7 1700.3 785.8 1704.3 790.3 1708.3 794.9 1712.3 799.8 1716.3 804.8 1720.3 810.0 1724.3 815.4 1728.3 820.9 1732.3 826.5 1736.3 832.2 1740.3 838.1 1744.3 844.0 1748.3 849.9 1752.3 856.0 1756.3 862.0 1760.3 868.1 1764.3 874.3 1768.3 880.4 1772.3 886.5 1776.3 892.6 1780.3 898.7 1784.3 904.7 1788.3 910.6 1792.3 916.5 1796.3 922.3 1800.3 927.9 1804.3 933.5 1808.3 938.9 1812.3 944.1 1816.3 949.2 1820.3 954.0 1824.3 958.7 1828.3 963.2 1832.3 967.4 1836.3 971.4 1840.3 975.1 1844.3 978.5 1848.3 981.7 1852.3 984.5 1856.3 987.1 1860.3 989.5 1864.3 991.7 1868.3 993.6 1872.3 995.4 1876.3 996.9 1880.3 998.3 1884.3 999.6 1888.3 1000.8 1892.3 1001.8 1896.3 1002.7 1900.3 1003.6 1904.3 1004.4 1908.3 1005.1 1912.3 1005.8 1916.3 1006.5 1920.3 1007.2 1924.3 1007.8 1928.3 1008.4 1932.3 1009.0 1936.3 1009.6 1940.3 1010.2 1944.3 1010.7 1948.3 1011.3 1952.3 1011.8 1956.3 1012.3 1960.3 1012.8 1964.3 1013.4 1968.3 1013.9 1972.3 1014.4 1976.3 1015.0 1980.3 1015.5 1984.3 1016.1 1988.3 1016.8 1992.3 1017.5 1996.3 1018.4 2000.3 1019.3 2004.3 1020.4 2008.3 1021.5 2012.3 1022.8 2016.3 1024.2 2020.3 1025.5 2024.3 1026.8 2028.3 1028.1 2032.3 1029.2 2036.3 1030.2 2040.3 1031.1 2044.3 1031.8 2048.3 1032.4 2052.3 1032.9 2056.3 1033.3 2060.3 1033.6 2064.3 1033.8 2068.3 1033.9 2072.3 1034.0 2076.3 1034.0 2080.3 1034.0 2084.3 1034.0 2088.3 1033.9 2092.3 1033.8 2096.3 1033.8 2100.3 1033.7 2104.3 1033.7 2108.3 1033.7 2112.3 1033.7 2116.3 1033.7 2120.3 1033.7 2124.3 1033.7 2128.3 1033.7 2132.3 1033.8 2136.3 1033.8 2140.3 1033.8 2144.3 1033.9 2148.3 1033.9 2152.3 1034.0 2156.3 1034.0 2160.3 1034.0 2164.3 1034.1 2168.3 1034.1 2172.3 1034.1 2176.3 1034.1 2180.3 1034.1 2184.3 1034.1 2188.3 1034.0 2192.3 1034.0 2196.3 1034.0 2200.3 1034.0 2204.3 1033.9 2208.3 1033.9 2212.3 1033.9 2216.3 1033.8 2220.3 1033.8 2224.3 1033.8 2228.3 1033.7 2232.3 1033.7 2236.3 1033.6 2240.3 1033.6 2244.3 1033.6 2248.3 1033.6 2252.3 1033.5 2256.3 1033.5 2260.3 1033.5 2264.3 1033.5 2268.3 1033.5 2272.3 1033.5 2276.3 1033.5 2280.3 1033.6 2284.3 1033.6 2286.3 1033.6"/>
<path class="crv" stroke="#0000ff" stroke-width="8.6" d="M248.3 165.0L252.3 165.4 256.3 165.5 260.3 165.3 264.3 165.0 268.3 164.7 272.3 164.3 276.3 164.1 280.3 164.0 284.3 164.1 288.3 164.6 292.3 165.2 296.3 166.1 300.3 167.2 304.3 168.4 308.3 169.8 312.3 171.2 316.3 172.7 320.3 174.3 324.3 175.9 328.3 177.6 332.3 179.4 336.3 181.3 340.3 183.2 344.3 185.2 348.3 187.4 352.3 189.6 356.3 192.0 360.3 194.4 364.3 197.0 368.3 199.7 372.3 202.5 376.3 205.5 380.3 208.6 384.3 211.8 388.3 215.2 392.3 218.7 396.3 222.4 400.3 226.2 404.3 230.1 408.3 234.1 412.3 238.2 416.3 242.4 420.3 246.8 424.3 251.2 428.3 255.7 432.3 260.3 436.3 265.0 440.3 269.8 444.3 274.7 448.3 279.6 452.3 284.7 456.3 289.8 460.3 295.0 464.3 300.3 468.3 305.7 472.3 311.2 476.3 316.9 480.3 322.6 484.3 328.5 488.3 334.5 492.3 340.7 496.3 347.0 500.3 353.5 504.3 360.2 508.3 367.0 512.3 373.9 516.3 380.9 520.3 388.1 524.3 395.2 528.3 402.4 532.3 409.6 536.3 416.8 540.3 423.9 544.3 430.9 548.3 437.9 552.3 444.8 556.3 451.6 560.3 458.2 564.3 464.8 568.3 471.2 572.3 477.5 576.3 483.7 580.3 489.7 584.3 495.7 588.3 501.5 592.3 507.3 596.3 512.9 600.3 518.5 604.3 524.1 608.3 529.5 612.3 534.9 616.3 540.3 620.3 545.6 624.3 551.0 628.3 556.2 632.3 561.5 636.3 566.8 640.3 572.1 644.3 577.4 648.3 582.6 652.3 587.9 656.3 593.1 660.3 598.4 664.3 603.6 668.3 608.8 672.3 614.0 676.3 619.2 680.3 624.4 684.3 629.5 688.3 634.6 692.3 639.7 696.3 644.8 700.3 649.8 704.3 654.8 708.3 659.8 712.3 664.7 716.3 669.5 720.3 674.3 724.3 679.0 728.3 683.5 732.3 688.0 736.3 692.3 740.3 696.5 744.3 700.6 748.3 704.5 752.3 708.3 756.3 711.8 760.3 715.2 764.3 718.4 768.3 721.5 772.3 724.4 776.3 727.1 780.3 729.8 784.3 732.3 788.3 734.8 792.3 737.2 796.3 739.6 800.3 741.9 804.3 744.2 808.3 746.6 812.3 748.9 816.3 751.3 820.3 753.8 824.3 756.3 828.3 758.9 832.3 761.7 836.3 764.6 840.3 767.7 844.3 771.1 848.3 774.8 852.3 778.8 856.3 783.2 860.3 787.9 864.3 793.1 868.3 798.7 872.3 804.6 876.3 810.8 880.3 817.2 884.3 824.0 888.3 830.9 892.3 838.0 896.3 845.3 900.3 852.6 904.3 860.0 908.3 867.4 912.3 874.7 916.3 881.9 920.3 889.0 924.3 895.9 928.3 902.5 932.3 909.0 936.3 915.2 940.3 921.1 944.3 926.9 948.3 932.5 952.3 937.8 956.3 943.0 960.3 948.0 964.3 952.8 968.3 957.5 972.3 962.0 976.3 966.3 980.3 970.6 984.3 974.7 988.3 978.7 992.3 982.7 996.3 986.6 1000.3 990.4 1004.3 994.1 1008.3 997.9 1012.3 1001.6 1016.3 1005.2 1020.3 1008.9 1024.3 1012.6 1028.3 1016.3 1032.3 1020.0 1036.3 1023.7 1040.3 1027.4 1044.3 1031.2 1048.3 1035.0 1052.3 1038.8 1056.3 1042.6 1060.3 1046.6 1064.3 1050.5 1068.3 1054.5 1072.3 1058.6 1076.3 1062.7 1080.3 1067.0 1084.3 1071.3 1088.3 1075.6 1092.3 1080.1 1096.3 1084.7 1100.3 1089.4 1104.3 1094.3 1108.3 1099.3 1112.3 1104.4 1116.3 1109.7 1120.3 1115.1 1124.3 1120.6 1128.3 1126.2 1132.3 1131.8 1136.3 1137.3 1140.3 1142.7 1144.3 1148.0 1148.3 1153.1 1152.3 1158.1 1156.3 1162.9 1160.3 1167.5 1164.3 1171.9 1168.3 1176.2 1172.3 1180.3 1176.3 1184.1 1180.3 1187.8 1184.3 1191.3 1188.3 1194.6 1192.3 1197.7 1196.3 1200.5 1200.3 1203.2 1204.3 1205.7 1208.3 1207.9 1212.3 1209.9 1216.3 1211.7 1220.3 1213.3 1224.3 1214.7 1228.3 1215.9 1232.3 1217.0 1236.3 1217.9 1240.3 1218.6 1244.3 1219.2 1248.3 1219.7 1252.3 1220.1 1256.3 1220.3 1260.3 1220.5 1264.3 1220.6 1268.3 1220.5 1272.3 1220.5 1276.3 1220.3 1280.3 1220.1 1284.3 1219.9 1288.3 1219.6 1292.3 1219.2 1296.3 1218.8 1300.3 1218.3 1304.3 1217.8 1308.3 1217.2 1312.3 1216.6 1316.3 1215.9 1320.3 1215.2 1324.3 1214.5 1328.3 1213.7 1332.3 1212.9 1336.3 1212.1 1340.3 1211.3 1344.3 1210.4 1348.3 1209.5 1352.3 1208.6 1356.3 1207.7 1360.3 1206.7 1364.3 1205.7 1368.3 1204.8 1372.3 1203.8 1376.3 1202.8 1380.3 1201.8 1384.3 1200.8 1388.3 1199.8 1392.3 1198.8 1396.3 1197.9 1400.3 1196.9 1404.3 1195.9 1408.3 1194.9 1412.3 1194.0 1416.3 1192.9 1420.3 1191.9 1424.3 1190.8 1428.3 1189.7 1432.3 1188.5 1436.3 1187.3 1440.3 1186.0 1444.3 1184.6 1448.3 1183.2 1452.3 1181.8 1456.3 1180.3 1460.3 1178.8 1464.3 1177.3 1468.3 1175.7 1472.3 1174.2 1476.3 1172.7 1480.3 1171.3 1484.3 1169.9 1488.3 1168.7 1492.3 1167.5 1496.3 1166.5 1500.3 1165.6 1504.3 1164.8 1508.3 1164.1 1512.3 1163.5 1516.3 1163.0 1520.3 1162.6 1524.3 1162.3 1528.3 1162.0 1532.3 1161.8 1536.3 1161.7 1540.3 1161.7 1544.3 1161.8 1548.3 1162.1 1552.3 1162.5 1556.3 1163.1 1560.3 1163.9 1564.3 1164.9 1568.3 1166.0 1572.3 1167.4 1576.3 1169.1 1580.3 1171.0 1584.3 1173.1 1588.3 1175.6 1592.3 1178.3 1596.3 1181.4 1600.3 1184.7 1604.3 1188.2 1608.3 1192.0 1612.3 1196.0 1616.3 1200.2 1620.3 1204.5 1624.3 1209.1 1628.3 1213.8 1632.3 1218.6 1636.3 1223.6 1640.3 1228.6 1644.3 1233.7 1648.3 1238.9 1652.3 1244.2 1656.3 1249.5 1660.3 1254.8 1664.3 1260.2 1668.3 1265.5 1672.3 1270.9 1676.3 1276.2 1680.3 1281.5 1684.3 1286.8 1688.3 1292.1 1692.3 1297.3 1696.3 1302.5 1700.3 1307.6 1704.3 1312.8 1708.3 1317.9 1712.3 1323.1 1716.3 1328.3 1720.3 1333.5 1724.3 1338.8 1728.3 1344.1 1732.3 1349.4 1736.3 1354.6 1740.3 1359.8 1744.3 1364.9 1748.3 1369.8 1752.3 1374.6 1756.3 1379.3 1760.3 1383.7 1764.3 1388.1 1768.3 1392.2 1772.3 1396.2 1776.3 1400.1 1780.3 1403.8 1784.3 1407.3 1788.3 1410.7 1792.3 1414.0 1796.3 1417.1 1800.3 1420.0 1804.3 1422.9 1808.3 1425.7 1812.3 1428.3 1816.3 1430.9 1820.3 1433.3 1824.3 1435.7 1828.3 1438.0 1832.3 1440.3 1836.3 1442.5 1840.3 1444.7 1844.3 1446.8 1848.3 1448.8 1852.3 1450.9 1856.3 1452.9 1860.3 1454.8 1864.3 1456.7 1868.3 1458.5 1872.3 1460.3 1876.3 1462.0 1880.3 1463.7 1884.3 1465.3 1888.3 1466.8 1892.3 1468.2 1896.3 1469.5 1900.3 1470.8 1904.3 1472.0 1908.3 1473.0 1912.3 1474.0 1916.3 1474.9 1920.3 1475.7 1924.3 1476.4 1928.3 1477.1 1932.3 1477.7 1936.3 1478.2 1940.3 1478.7 1944.3 1479.2 1948.3 1479.6 1952.3 1480.0 1956.3 1480.4 1960.3 1480.7 1964.3 1481.1 1968.3 1481.4 1972.3 1481.8 1976.3 1482.2 1980.3 1482.6 1984.3 1483.0 1988.3 1483.5 1992.3 1483.9 1996.3 1484.4 2000.3 1484.9 2004.3 1485.4 2008.3 1485.8 2012.3 1486.3 2016.3 1486.8 2020.3 1487.3 2024.3 1487.8 2028.3 1488.3 2032.3 1488.8 2036.3 1489.3 2040.3 1489.8 2044.3 1490.3 2048.3 1490.7 2052.3 1491.2 2056.3 1491.6 2060.3 1492.1 2064.3 1492.5 2068.3 1492.9 2072.3 1493.2 2076.3 1493.6 2080.3 1493.9 2084.3 1494.1 2088.3 1494.4 2092.3 1494.6 2096.3 1494.8 2100.3 1495.0 2104.3 1495.1 2108.3 1495.2 2112.3 1495.2 2116.3 1495.2 2120.3 1495.2 2124.3 1495.2 2128.3 1495.2 2132.3 1495.1 2136.3 1495.1 2140.3 1495.0 2144.3 1494.9 2148.3 1494.9 2152.3 1494.8 2156.3 1494.7 2160.3 1494.6 2164.3 1494.6 2168.3 1494.5 2172.3 1494.4 2176.3 1494.4 2180.3 1494.4 2184.3 1494.4 2188.3 1494.3 2192.3 1494.3 2196.3 1494.3 2200.3 1494.3 2204.3 1494.3 2208.3 1494.4 2212.3 1494.4 2216.3 1494.4 2220.3 1494.4 2224.3 1494.4 2228.3 1494.4 2232.3 1494.4 2236.3 1494.5 2240.3 1494.5 2244.3 1494.5 2248.3 1494.5 2252.3 1494.5 2256.3 1494.5 2260.3 1494.5 2264.3 1494.5 2268.3 1494.5 2272.3 1494.4 2276.3 1494.4 2280.3 1494.4 2284.3 1494.3 2286.3 1494.3"/>
<text transform="translate(0 185.10) scale(1 1.04)" font-size="70" fill="#000"><tspan x="81.3" text-anchor="start">1</tspan><tspan x="194.4" text-anchor="end">00</tspan></text>
<path fill="#fff" d="M85.43 178.86H98.80V186.30H85.43ZM105.19 178.86H117.81V186.30H105.19Z"/>
<text transform="translate(194.4 458.2) scale(1 1.04)" font-size="70" text-anchor="end" fill="#000" color="#000">95</text>
<text transform="translate(194.4 731.3) scale(1 1.04)" font-size="70" text-anchor="end" fill="#000" color="#000">90</text>
<text transform="translate(194.4 1004.4) scale(1 1.04)" font-size="70" text-anchor="end" fill="#000" color="#000">85</text>
<text transform="translate(194.4 1277.5) scale(1 1.04)" font-size="70" text-anchor="end" fill="#000" color="#000">80</text>
<text transform="translate(194.4 1550.6) scale(1 1.04)" font-size="70" text-anchor="end" fill="#000" color="#000">75</text>
<text transform="translate(633.9 1777) scale(1 1.04)" font-size="70" text-anchor="middle" fill="#000" color="#000">200</text>
<text transform="translate(1074.5 1777) scale(1 1.04)" font-size="70" text-anchor="middle" fill="#000" color="#000">400</text>
<text transform="translate(1515.1 1777) scale(1 1.04)" font-size="70" text-anchor="middle" fill="#000" color="#000">600</text>
<text transform="translate(1955.7 1777) scale(1 1.04)" font-size="70" text-anchor="middle" fill="#000" color="#000">800</text>
<text transform="translate(88.4 827) rotate(-90) scale(1 1.04)" font-size="86" text-anchor="middle" fill="#000" color="#000">m, %</text>
<text transform="translate(1267 1878.4) scale(1 1.04)" font-size="86" text-anchor="middle" fill="#000" color="#000">T, C°</text>
<text transform="translate(2282 318.6) scale(1 1.04)" font-size="86" text-anchor="end" fill="#f68026" color="#f68026">HCN<tspan font-size="55" dy="21.5">3</tspan><tspan dy="-21.5" dx="0">/Pt</tspan></text>
<text transform="translate(2286.6 446.1) scale(1 1.04)" font-size="86" text-anchor="end" fill="#000000" color="#000000">HCN<tspan font-size="55" dy="21.5">3</tspan></text>
<text transform="translate(2286.5 632.9) scale(1 1.04)" font-size="86" text-anchor="end" fill="#ff0000" color="#ff0000">HCN<tspan font-size="55" dy="21.5">3</tspan><tspan font-size="80" dy="-23.5" dx="3.25" stroke="currentColor" stroke-width="1.6" stroke-linejoin="miter">×</tspan><tspan dy="2.0" dx="0.25">Me</tspan></text>
<text transform="translate(2291 1130.9) scale(1 1.04)" font-size="86" text-anchor="end" fill="#008000" color="#008000">HCN<tspan font-size="55" dy="21.5">3</tspan><tspan font-size="80" dy="-23.5" dx="3.75" stroke="currentColor" stroke-width="1.6" stroke-linejoin="miter">×</tspan><tspan dy="2.0" dx="1.25">Bu</tspan></text>
<text transform="translate(2290.5 1595) scale(1 1.04)" font-size="86" text-anchor="end" fill="#1632ff" color="#1632ff">HCN<tspan font-size="55" dy="21.5">3</tspan><tspan font-size="80" dy="-23.5" dx="4.25" stroke="currentColor" stroke-width="1.6" stroke-linejoin="miter">×</tspan><tspan dy="2.0" dx="1.75">Oc</tspan></text>
</svg></body></html>
